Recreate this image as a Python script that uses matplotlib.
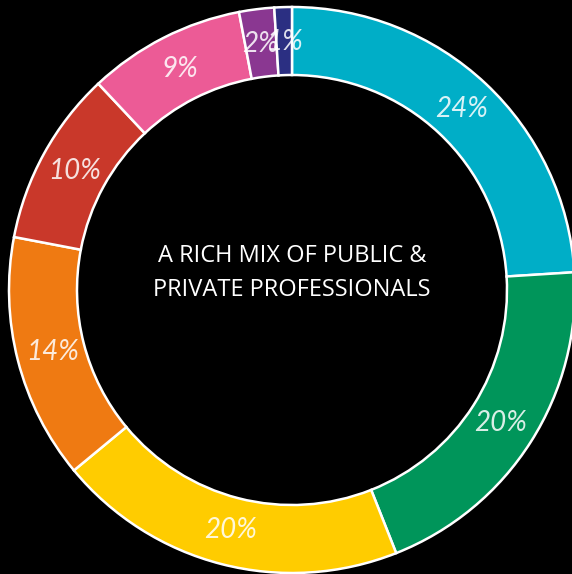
import matplotlib.pyplot as plt

shares = [24, 20, 20, 14, 10, 9, 2, 1]
colors = ['#00AEC7', '#00955A', '#FFCC00', '#EF7A12',
          '#C9382A', '#EC5B96', '#8A3791', '#2B2F82']
centre_text = 'A RICH MIX OF PUBLIC &\nPRIVATE PROFESSIONALS'

fig = plt.figure(figsize=(5.72, 5.74), dpi=100, facecolor='black')
ax = fig.add_axes([0, 0, 1, 1])
ax.set_facecolor('black')

wedges, texts, pcts = ax.pie(
    shares, colors=colors, startangle=90, counterclock=False,
    radius=283, autopct=lambda p: f'{p:.0f}%', pctdistance=0.875,
    wedgeprops=dict(width=68, edgecolor='white', linewidth=1.8),
    textprops=dict(color='white', fontsize=20, family='Lato',
                   fontweight='normal', style='italic'))
for t in pcts:
    t.set_alpha(0.85)

ax.text(0, 17, centre_text, ha='center', va='center', color='white',
        fontsize=17, family='Open Sans', linespacing=1.55)

ax.set_xlim(-292, 280)
ax.set_ylim(-284, 290)
ax.set_aspect('equal')
ax.axis('off')

fig.savefig('out.png', dpi=100, facecolor='black')
